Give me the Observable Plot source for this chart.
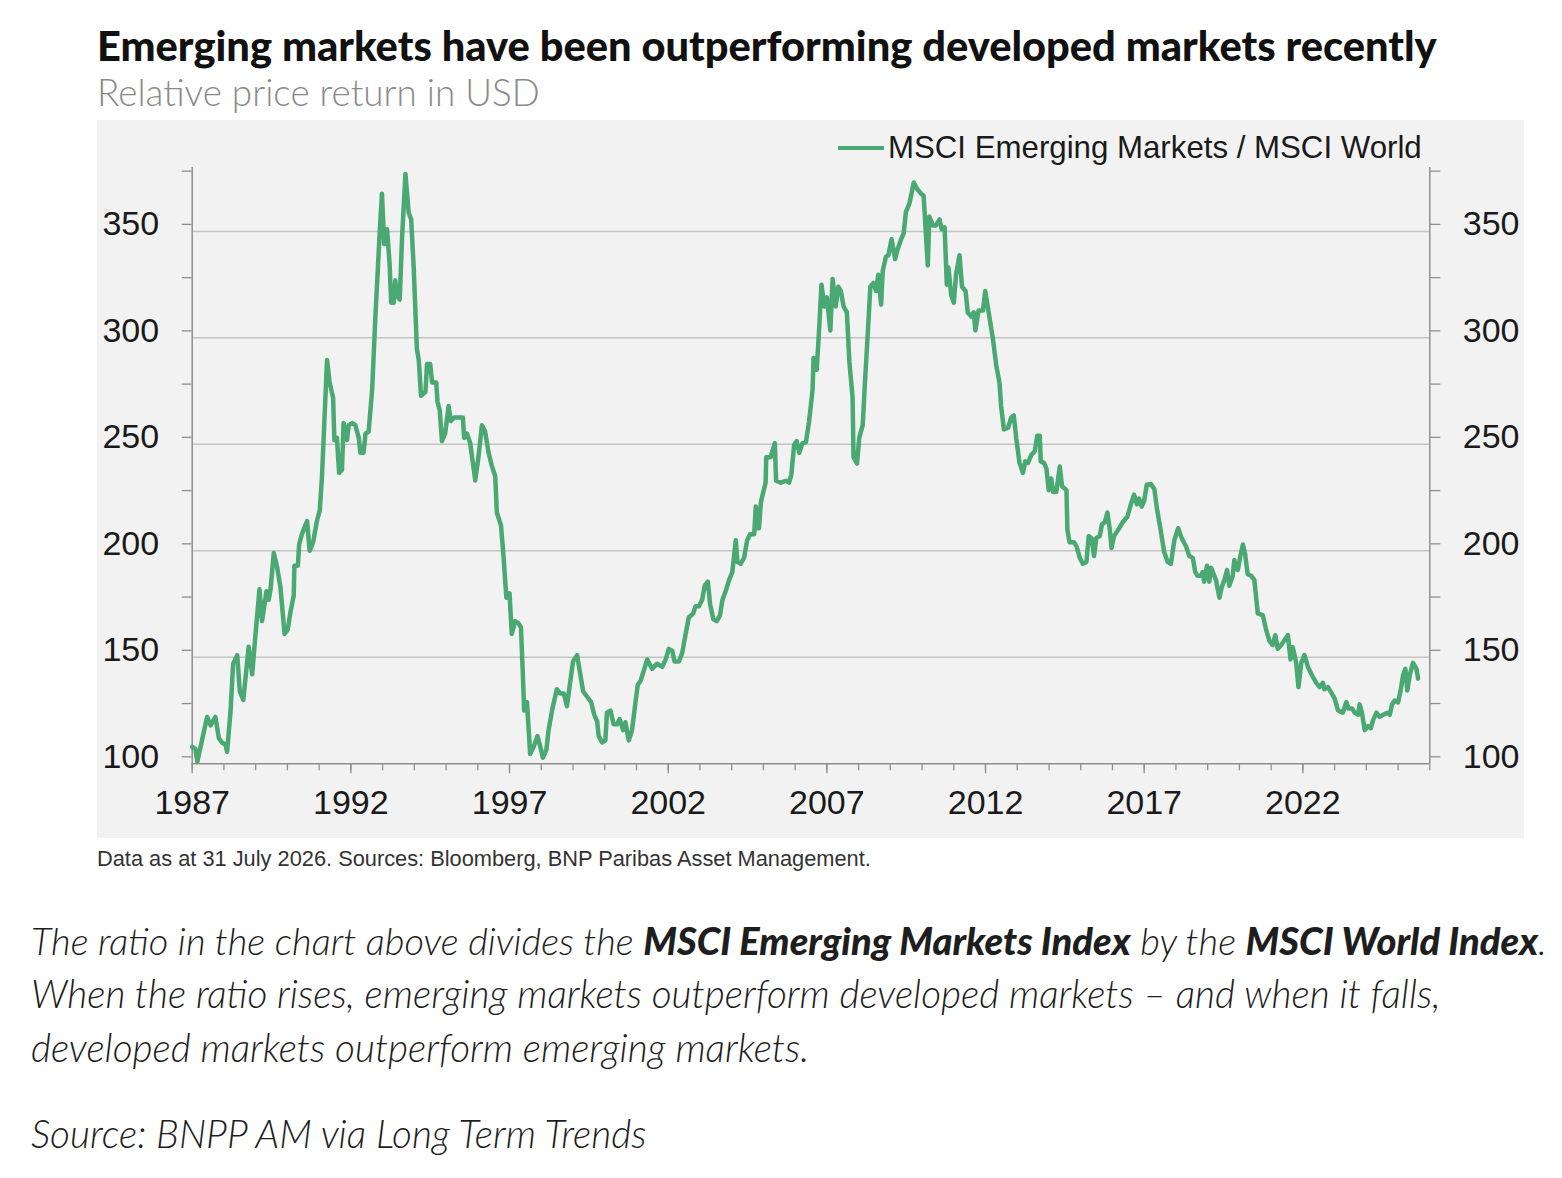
<!DOCTYPE html>
<html>
<head>
<meta charset="utf-8">
<script src="https://cdn.jsdelivr.net/npm/d3@7"></script>
<script src="https://cdn.jsdelivr.net/npm/@observablehq/plot@0.6"></script>
<style>
  html, body { margin: 0; padding: 0; background: #ffffff; }
  body { width: 1562px; height: 1178px; position: relative; overflow: hidden; }
  .t { position: absolute; white-space: nowrap; margin: 0; }
  #title { font-family: Lato, "Liberation Sans", sans-serif; font-weight: 900; color: #111; font-size: 36px; }
  #subtitle { font-family: Lato, "Liberation Sans", sans-serif; font-weight: 300; color: #8a8a8a; font-size: 32px; }
  #legendText { font-family: "Liberation Sans", Arial, sans-serif; color: #1a1a1a; font-size: 30px; }
  #caption { font-family: "Liberation Sans", Arial, sans-serif; color: #333; font-size: 18px; }
  .para { font-family: Lato, "Liberation Sans", sans-serif; font-style: italic; font-weight: 300; color: #1e1e1e; font-size: 32px; }
  .para b { font-weight: 900; }
  #chart { position: absolute; left: 97px; top: 120px; width: 1427px; height: 718px; }
  #legendLine { position: absolute; left: 838px; top: 146px; width: 46px; height: 4px; background: #4aa872; }
</style>
</head>
<body>
<div id="title" class="t">Emerging markets have been outperforming developed markets recently</div>
<div id="subtitle" class="t">Relative price return in USD</div>
<div id="chart"></div>
<div id="legendLine"></div>
<div id="legendText" class="t">MSCI Emerging Markets / MSCI World</div>
<div id="caption" class="t">Data as at 31 July 2026. Sources: Bloomberg, BNP Paribas Asset Management.</div>
<div id="p1" class="t para">The ratio in the chart above divides the <b>MSCI Emerging Markets Index</b> by the <b>MSCI World Index</b>.</div>
<div id="p2" class="t para">When the ratio rises, emerging markets outperform developed markets – and when it falls,</div>
<div id="p3" class="t para">developed markets outperform emerging markets.</div>
<div id="p4" class="t para">Source: BNPP AM via Long Term Trends</div>
<script>
// ---- Data ----
const years = [
1987.00,1987.10,1987.16,1987.47,1987.58,1987.73,1987.84,1987.94,1988.05,1988.10,
1988.21,1988.29,1988.42,1988.50,1988.61,1988.78,1988.89,1988.99,1989.12,1989.20,
1989.34,1989.41,1989.47,1989.57,1989.68,1989.78,1989.91,1990.01,1990.10,1990.20,
1990.22,1990.33,1990.37,1990.46,1990.62,1990.70,1990.81,1990.93,1991.02,1991.09,
1991.17,1991.25,1991.33,1991.44,1991.48,1991.56,1991.63,1991.72,1991.77,1991.88,
1991.93,1992.04,1992.14,1992.25,1992.30,1992.40,1992.46,1992.56,1992.67,1992.77,
1992.91,1992.98,1993.05,1993.14,1993.22,1993.27,1993.35,1993.40,1993.45,1993.54,
1993.61,1993.72,1993.82,1993.90,1993.98,1994.08,1994.14,1994.21,1994.35,1994.40,
1994.50,1994.56,1994.69,1994.73,1994.80,1994.87,1994.97,1995.08,1995.15,1995.26,
1995.39,1995.53,1995.57,1995.66,1995.76,1995.92,1996.02,1996.13,1996.23,1996.34,
1996.44,1996.55,1996.60,1996.73,1996.81,1996.90,1997.00,1997.07,1997.18,1997.28,
1997.36,1997.42,1997.46,1997.55,1997.65,1997.76,1997.88,1997.97,1998.05,1998.16,
1998.23,1998.34,1998.49,1998.60,1998.71,1998.81,1998.89,1999.00,1999.13,1999.23,
1999.32,1999.44,1999.57,1999.67,1999.76,1999.81,1999.92,2000.02,2000.07,2000.18,
2000.28,2000.39,2000.47,2000.58,2000.65,2000.76,2000.86,2000.97,2001.04,2001.13,
2001.23,2001.34,2001.49,2001.65,2001.81,2001.92,2002.02,2002.13,2002.20,2002.34,
2002.44,2002.55,2002.65,2002.79,2002.86,2002.97,2003.07,2003.15,2003.25,2003.32,
2003.42,2003.53,2003.63,2003.71,2003.81,2003.92,2004.02,2004.13,2004.18,2004.28,
2004.39,2004.49,2004.58,2004.71,2004.76,2004.81,2004.86,2004.92,2004.97,2005.07,
2005.09,2005.23,2005.36,2005.40,2005.55,2005.71,2005.81,2005.88,2005.97,2006.05,
2006.13,2006.23,2006.34,2006.44,2006.55,2006.58,2006.68,2006.76,2006.83,2006.92,
2007.00,2007.11,2007.18,2007.28,2007.36,2007.44,2007.53,2007.63,2007.71,2007.81,
2007.84,2007.95,2008.02,2008.13,2008.20,2008.28,2008.37,2008.47,2008.55,2008.62,
2008.71,2008.76,2008.86,2008.94,2009.04,2009.15,2009.23,2009.34,2009.42,2009.49,
2009.60,2009.74,2009.84,2009.97,2010.05,2010.18,2010.23,2010.34,2010.44,2010.55,
2010.62,2010.71,2010.78,2010.83,2010.92,2011.00,2011.07,2011.18,2011.26,2011.37,
2011.44,2011.55,2011.63,2011.68,2011.78,2011.92,2011.99,2012.09,2012.23,2012.34,
2012.44,2012.49,2012.58,2012.71,2012.81,2012.89,2012.97,2013.07,2013.18,2013.25,
2013.34,2013.44,2013.55,2013.63,2013.71,2013.74,2013.84,2013.92,2013.99,2014.07,
2014.13,2014.23,2014.34,2014.41,2014.55,2014.58,2014.65,2014.79,2014.87,2014.97,
2015.07,2015.18,2015.25,2015.34,2015.42,2015.49,2015.60,2015.67,2015.76,2015.84,
2015.92,2015.97,2016.05,2016.21,2016.32,2016.47,2016.58,2016.68,2016.77,2016.84,
2016.92,2017.00,2017.08,2017.21,2017.32,2017.40,2017.51,2017.63,2017.74,2017.84,
2017.95,2018.07,2018.18,2018.32,2018.42,2018.53,2018.61,2018.68,2018.79,2018.84,
2018.89,2018.98,2019.05,2019.11,2019.19,2019.26,2019.37,2019.44,2019.53,2019.61,
2019.68,2019.79,2019.84,2019.95,2020.03,2020.11,2020.18,2020.26,2020.37,2020.47,
2020.58,2020.74,2020.84,2020.95,2021.05,2021.13,2021.21,2021.32,2021.44,2021.53,
2021.61,2021.68,2021.79,2021.86,2021.95,2022.05,2022.16,2022.28,2022.42,2022.53,
2022.63,2022.68,2022.79,2022.89,2023.00,2023.11,2023.26,2023.37,2023.44,2023.55,
2023.63,2023.74,2023.79,2023.86,2023.95,2024.05,2024.14,2024.21,2024.32,2024.42,
2024.53,2024.66,2024.74,2024.81,2024.89,2025.00,2025.08,2025.16,2025.23,2025.29,
2025.37,2025.47,2025.58,2025.63
];
const ratio = [
108,107,101,122,118,122,112,110,109,105.6,
125,147,151,134,130,155,142,160,182,167,
181,177,182,199,192,183,161,163,171.6,179,
193,193,203,208,214,200,204,214,219,235,
262.6,289.6,279,272,252,253,236.6,238,260,252,
259,260,259,253,246,246,255,256,275.6,309,
350,367.7,344,351,335,316.5,316.5,327,320,318,
346,377,359,355.6,333,295,289.6,272.8,274.7,287.7,
287.7,279,279,270,266,251.5,255,268,261,262.6,
262.6,262.6,253,255,250.6,233,244,259,256,246,
240,235,218,212,197.6,178,180,161,167,166,
164,142,125,129,104.6,108,113,108,102.8,106.5,
115.8,125,135,133,133,127,136,148,151,142,
134,131.6,129,123,120,113,110,111,124,125,
118.6,118.6,121,115.8,119.5,111,115.8,129,137,139,
143.7,149,144.6,147,145.5,149,154,153,148,148,
152,161,168.8,170.6,174,174,177,183.6,185.5,175,
168,167,169.7,177,181,186.4,190,205,194.8,193.9,
196.7,205,207.8,207.8,220.8,210.6,210.6,222.7,226,232,
244,244,250.6,232.9,232,232.9,232,235.7,249.8,251.5,
246,250.6,251,260.8,275.6,290.5,285,305,325,314.7,
319,303.5,327.7,314.7,324,322,314.7,312,288.7,272,
244,241,253,259,279,299.8,324,325.8,322,329.6,
315.6,331.4,338,338.8,346.3,337,341.6,346.3,349,359,
363,373,370,367.7,366.7,334,357,352.8,352.8,355.6,
351,351.9,325,333,320,316.5,329.6,338.8,324,322,
311.9,310,312,303.5,312.8,312.8,322,312.8,299.8,286.8,
279,268,257,257.8,262.6,263.6,252.6,241.3,236.6,242,
241.3,245,246.8,254,254,242,241.3,238.6,228.5,234,
227.6,227.6,239.6,230.3,228.5,209.7,204,204,202,196.7,
193.9,194.8,206.9,206,197.6,206,206.9,212.5,213.4,218,
209.7,201.3,206.9,210.6,213.4,216,221.8,226.4,221.8,224.5,
220.8,223.6,231,231.4,229,220,210.6,199.4,194.8,193.9,
205,210.6,206,202,197.6,196.7,190,188.3,188.3,190,
185.5,193,185.5,192,189,186.4,178,182.7,186.4,191,
183.6,188.3,195.7,191,197.6,203,198.5,189,188.3,186.4,
170.6,169.7,163,157.6,155.8,160.4,154,155.8,158.5,160.4,
149,154.8,147.4,136,147.4,151,145.5,141.8,138,136,
138,135,136,133.5,130.7,125,124,129,126,126,
124,123,127.9,124,115.8,117.7,116.7,120.4,124,122,
123,124,123,127.9,129.7,128.8,134.4,141.8,144.6,134.4,
141.8,147.4,144.6,140
];
const seriesName = "MSCI Emerging Markets / MSCI World";
const yTickValues = [100,125,150,175,200,225,250,275,300,325,350,375];
const yGridValues = [150,200,250,300,350];
const xMinorYears = [1987,1988,1989,1990,1991,1992,1993,1994,1995,1996,1997,1998,1999,2000,2001,2002,2003,2004,2005,2006,2007,2008,2009,2010,2011,2012,2013,2014,2015,2016,2017,2018,2019,2020,2021,2022,2023,2024,2025,2026];
const xMajorYears = [1987,1992,1997,2002,2007,2012,2017,2022];

const data = years.map((y, i) => ({year: y, value: ratio[i], series: seriesName}));

const green = "#4aa872";
const axisGrey = "#8f8f8f";
const labelFont = 34;

const chart = Plot.plot({
  width: 1427,
  height: 718,
  marginLeft: 94.7,
  marginRight: 94.7,
  marginTop: 47,
  marginBottom: 74.7,
  style: {background: "#f2f2f2", fontFamily: "'Liberation Sans', Arial, sans-serif", color: "#1a1a1a", overflow: "visible"},
  x: {type: "linear", domain: [1987, 2026]},
  y: {type: "linear", domain: [100, 380]},
  marks: [
    Plot.ruleY(yGridValues, {stroke: "#c4c4c4", strokeWidth: 1.5}),
    Plot.axisY(yTickValues, {anchor: "left", tickSize: 10, tickPadding: 23, fontSize: labelFont, stroke: axisGrey, strokeWidth: 1.3, fill: "#1a1a1a", dy: -7, label: null, tickFormat: d => d % 50 === 0 ? String(d) : ""}),
    Plot.axisY(yTickValues, {anchor: "right", tickSize: 10, tickPadding: 23, fontSize: labelFont, stroke: axisGrey, strokeWidth: 1.3, fill: "#1a1a1a", dy: -7, label: null, tickFormat: d => d % 50 === 0 ? String(d) : ""}),
    Plot.axisX(xMinorYears, {anchor: "bottom", tickSize: 7, stroke: axisGrey, strokeWidth: 1.3, label: null, tickFormat: () => ""}),
    Plot.axisX(xMajorYears, {anchor: "bottom", tickSize: 10, tickPadding: 16, fontSize: labelFont, stroke: axisGrey, strokeWidth: 1.3, fill: "#1a1a1a", label: null, tickFormat: d => String(d)}),
    Plot.ruleX([1987, 2026], {stroke: axisGrey, strokeWidth: 1.5}),
    Plot.ruleY([100], {stroke: axisGrey, strokeWidth: 1.5}),
    Plot.line(data, {x: "year", y: "value", stroke: green, strokeWidth: 4.5, strokeLinejoin: "round", strokeLinecap: "round"})
  ]
});
document.getElementById("chart").appendChild(chart);

// ---- Text layout helpers ----
const canvas = document.createElement("canvas");
const ctx = canvas.getContext("2d");
function fit(el, target) {
  const w = el.getBoundingClientRect().width;
  const fs = parseFloat(getComputedStyle(el).fontSize);
  const nfs = fs * target / w;
  el.style.fontSize = nfs + "px";
  return nfs;
}
function place(el, x, baseline) {
  const cs = getComputedStyle(el);
  ctx.font = `${cs.fontStyle} ${cs.fontWeight} ${cs.fontSize} ${cs.fontFamily}`;
  const m = ctx.measureText("Hg");
  const asc = m.fontBoundingBoxAscent, desc = m.fontBoundingBoxDescent;
  el.style.lineHeight = (asc + desc) + "px";
  el.style.left = x + "px";
  el.style.top = (baseline - asc) + "px";
}
const $ = id => document.getElementById(id);
fit($("title"), 1340); place($("title"), 97, 61);
fit($("subtitle"), 443); place($("subtitle"), 97, 106);
fit($("legendText"), 534); place($("legendText"), 888, 158);
fit($("caption"), 774); place($("caption"), 97, 866);
const pfs = fit($("p2"), 1410);
["p3","p4"].forEach(id => $(id).style.fontSize = pfs + "px");
fit($("p1"), 1516);
place($("p1"), 31, 955);
place($("p2"), 31, 1008);
place($("p3"), 31, 1062);
place($("p4"), 31, 1148);
</script>
</body>
</html>
